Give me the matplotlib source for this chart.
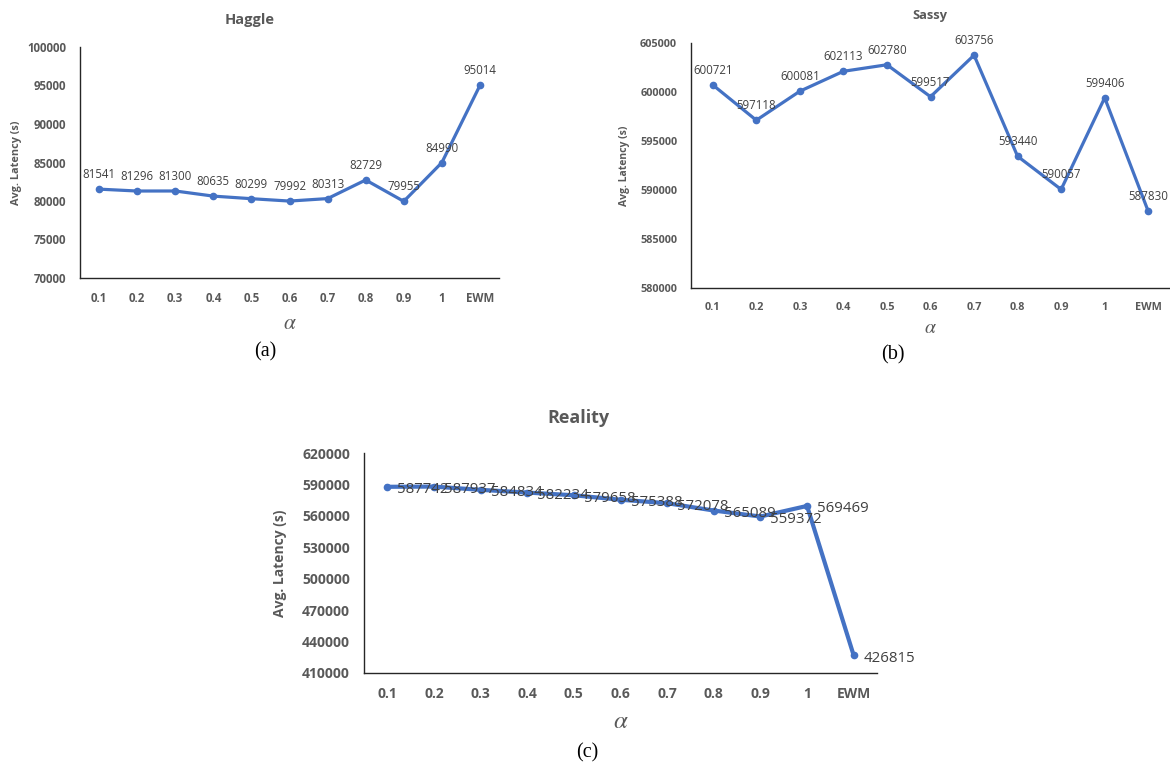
import numpy as np
import matplotlib
matplotlib.use("Agg")
import matplotlib.pyplot as plt

alphas = ['0.1', '0.2', '0.3', '0.4', '0.5', '0.6', '0.7', '0.8', '0.9', '1', 'EWM']
haggle = [81541, 81296, 81300, 80635, 80299, 79992, 80313, 82729, 79955, 84990, 95014]
sassy = [600721, 597118, 600081, 602113, 602780, 599517, 603756, 593440, 590057, 599406, 587830]
reality = [587742, 587937, 584834, 582234, 579658, 575388, 572078, 565089, 559372, 569469, 426815]

blue = '#4472C4'
grey = '#595959'
W, H = 1170, 765

plt.rcParams['font.family'] = ['Open Sans', 'DejaVu Sans']
plt.rcParams['mathtext.fontset'] = 'stix'
fig = plt.figure(figsize=(W / 100, H / 100), dpi=100)


def box(l, t, r, b):
    # pixel box -> figure fraction
    return [l / W, 1 - b / H, (r - l) / W, (b - t) / H]


def panel(rect, vals, title, ylim, step, tick_fs, ylab_fs, lab_fs, title_fs, lw, where,
          alpha_y, title_xy, ylab_x):
    ax = fig.add_axes(box(*rect))
    x = np.arange(len(vals))
    ax.plot(x, vals, color=blue, lw=lw, marker='o', ms=4.5, clip_on=False, zorder=3)
    for xi, v in zip(x, vals):
        if where == 'above':
            ax.annotate(str(v), (xi, v), xytext=(0, 8), textcoords='offset pixels',
                        ha='center', va='bottom', fontsize=lab_fs, color='#404040')
        else:
            ax.annotate(str(v), (xi, v), xytext=(10, -3), textcoords='offset pixels',
                        ha='left', va='center', fontsize=lab_fs, color='#404040')
    ax.set_xlim(-0.5, len(vals) - 0.5)
    ax.set_ylim(*ylim)
    ax.set_yticks(np.arange(ylim[0], ylim[1] + 1, step))
    ax.set_xticks(x)
    ax.set_xticklabels(alphas)
    for s in ['top', 'right']:
        ax.spines[s].set_visible(False)
    for s in ['left', 'bottom']:
        ax.spines[s].set_color('#262626')
        ax.spines[s].set_linewidth(1.0)
    ax.tick_params(length=0, labelsize=tick_fs, labelcolor=grey, pad=10)
    for t in ax.get_xticklabels() + ax.get_yticklabels():
        t.set_fontweight('bold')
    l, t, r, b = rect
    cx = (l + r) / 2
    fig.text(ylab_x / W, 1 - (t + b) / 2 / H, 'Avg. Latency (s)', rotation=90, ha='center', va='center',
             fontsize=ylab_fs, fontweight='bold', color=grey)
    fig.text(title_xy[0] / W, 1 - title_xy[1] / H, title, ha='center', va='center',
             fontsize=title_fs, fontweight='bold', color=grey)
    fig.text(cx / W, 1 - alpha_y / H, r'$\alpha$', ha='center', va='center',
             fontsize=title_fs + 5, color=grey)
    return ax


panel((80, 47, 499, 278), haggle, 'Haggle', (70000, 100000), 5000, 8.3, 7.8, 8.3, 10.5, 2.3, 'above', 323, (250, 20), 17)
panel((691, 43, 1170, 288), sassy, 'Sassy', (580000, 605000), 5000, 7.8, 7.5, 8.3, 9.3, 2.3, 'above', 328, (930, 16), 624)
panel((364, 453, 877, 673), reality, 'Reality', (410000, 620000), 30000, 10, 10, 10.8, 13, 3.0, 'right', 722, (578, 418), 280)

for s, xx, yy in [('(a)', 265, 352), ('(b)', 893, 355), ('(c)', 587, 753)]:
    fig.text(xx / W, 1 - yy / H, s, ha='center', va='center', fontsize=14.5,
             family='Liberation Serif', color='black')

plt.savefig('out.png', dpi=100)
